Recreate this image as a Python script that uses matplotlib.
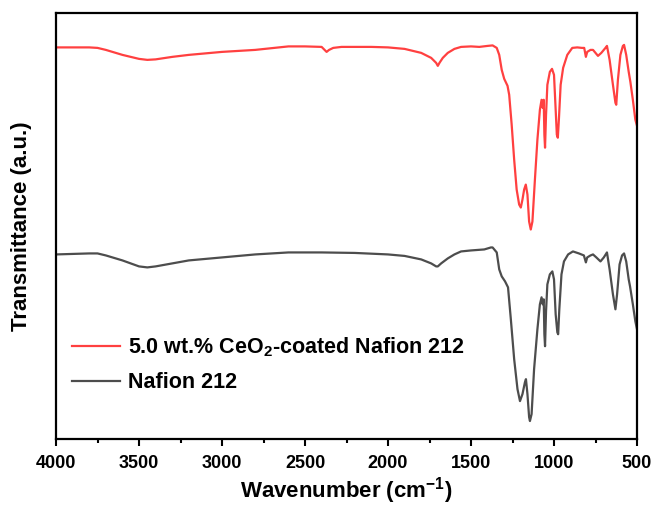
import matplotlib
matplotlib.use("Agg")
import matplotlib.pyplot as plt
from matplotlib.ticker import MultipleLocator

plt.rcParams['font.family'] = ['Liberation Sans', 'DejaVu Sans']
plt.rcParams['font.weight'] = 'bold'
plt.rcParams['mathtext.fontset'] = 'custom'
plt.rcParams['mathtext.rm'] = 'Liberation Sans:bold'
plt.rcParams['mathtext.bf'] = 'Liberation Sans:bold'
plt.rcParams['mathtext.it'] = 'Liberation Sans:bold'

# Wavenumber (cm^-1) and transmittance (a.u.)
wn_ceo2 = [4000, 3900, 3800, 3750, 3700, 3600, 3500, 3450, 3400, 3300, 3200, 3000,
           2800, 2600, 2500, 2400, 2370, 2355, 2330, 2280, 2100, 2000, 1900, 1800,
           1740, 1710, 1700, 1690, 1670, 1640, 1600, 1560, 1500, 1450, 1400, 1370,
           1345, 1330, 1315, 1300, 1280, 1270, 1255, 1240, 1225, 1210, 1200, 1190,
           1180, 1170, 1160, 1150, 1140, 1130, 1115, 1100, 1085, 1075, 1068, 1062,
           1058, 1054, 1048, 1040, 1025, 1012, 1000, 990, 983, 977, 970, 960, 945,
           920, 890, 860, 832, 818, 808, 800, 780, 765, 750, 735, 715, 690, 681, 665,
           645, 630, 625, 615, 600, 585, 578, 565, 550, 540, 525, 510, 500]
t_ceo2 = [392.5, 392.5, 392.5, 392, 390, 385, 381, 380, 380.5, 383, 385, 388,
          390, 393.5, 393.5, 393, 388, 390, 392, 393, 393, 392.5, 391, 387,
          382, 377, 374, 377, 382, 387, 391, 393, 393.5, 393, 394, 394.5,
          392, 385, 370, 361, 354, 345, 315, 280, 250, 235, 232, 240,
          250, 255, 245, 218, 210, 218, 260, 300, 330, 340, 332, 340,
          305, 292, 325, 355, 368, 371, 365, 330, 305, 302, 322, 355, 372,
          385, 392, 392.5, 392, 392, 383, 388, 390, 390, 387, 384, 387, 392, 394, 380,
          355, 337, 335, 360, 385, 394, 395, 385, 368, 358, 340, 320, 314]

wn_nafion = [4000, 3800, 3750, 3700, 3600, 3500, 3450, 3400, 3300, 3200, 3000, 2800,
             2600, 2400, 2200, 2000, 1900, 1800, 1740, 1710, 1700, 1680, 1640, 1600,
             1560, 1500, 1420, 1380, 1370, 1345, 1330, 1315, 1295, 1277, 1260, 1240,
             1220, 1205, 1190, 1175, 1169, 1160, 1150, 1145, 1135, 1120, 1100, 1085,
             1075, 1068, 1062, 1058, 1054, 1048, 1040, 1025, 1010, 1000, 990, 980,
             975, 968, 955, 940, 915, 886, 850, 820, 808, 800, 780, 765, 745, 720,
             700, 681, 665, 645, 630, 620, 605, 590, 578, 565, 550, 542, 525, 510, 500]
t_nafion = [185, 186, 186, 184, 179, 173, 172, 173, 176, 179, 182, 185,
            187, 187, 186.5, 185, 183.5, 180, 176, 173, 173, 176, 181, 185,
            188, 189, 190, 192, 192, 187, 170, 163, 158, 152, 120, 80,
            50, 38, 45, 57, 60, 45, 22, 18, 25, 70, 110, 135,
            142, 135, 140, 105, 93, 128, 155, 165, 168, 160, 125, 107,
            105, 130, 165, 178, 185, 188, 186, 184, 177, 182, 184, 185, 182, 178,
            182, 187, 170, 145, 130, 145, 175, 184, 186, 178, 160, 153, 135, 118, 110]

labels = ['5.0 wt.% CeO$_\\mathbf{2}$-coated Nafion 212', 'Nafion 212']
colors = ['#ff4040', '#4d4d4d']

fig = plt.figure(figsize=(6.53, 5.07), dpi=100)
ax = fig.add_axes([0.0858, 0.1341, 0.8897, 0.8403])

ax.plot(wn_ceo2, t_ceo2, color=colors[0], lw=1.6, label=labels[0])
ax.plot(wn_nafion, t_nafion, color=colors[1], lw=1.6, label=labels[1])

ax.set_xlim(4000, 500)
ax.set_ylim(0, 427)
ax.xaxis.set_major_locator(MultipleLocator(500))
ax.xaxis.set_minor_locator(MultipleLocator(250))
ax.set_yticks([])
ax.tick_params(axis='x', which='major', direction='out', length=5, width=1.5,
               labelsize=13, pad=6.5)
ax.tick_params(axis='x', which='minor', direction='out', length=3, width=1.5)
for lab in ax.get_xticklabels():
    lab.set_fontweight('bold')
for s in ax.spines.values():
    s.set_linewidth(1.6)

ax.set_xlabel('Wavenumber (cm$^{\\mathbf{-1}}$)', fontsize=16, fontweight='bold', labelpad=2)
ax.set_ylabel('Transmittance (a.u.)', fontsize=16, fontweight='bold', labelpad=17)

leg = ax.legend(loc='lower left', bbox_to_anchor=(-0.006, 0.062), frameon=False,
                fontsize=15.5, handlelength=2.25, handletextpad=0.35, labelspacing=0.6,
                borderaxespad=0.5)
for t in leg.get_texts():
    t.set_fontweight('bold')

fig.savefig('out.png', dpi=100)
